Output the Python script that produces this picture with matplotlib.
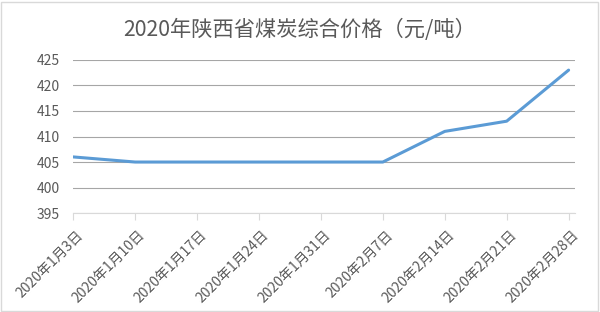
import matplotlib
matplotlib.use('Agg')
import matplotlib.pyplot as plt
from matplotlib.patches import Rectangle
from matplotlib.transforms import ScaledTranslation

plt.rcParams['font.family'] = ['Noto Sans CJK SC', 'DejaVu Sans']

# 日期和价格
dates = ['2020年1月3日', '2020年1月10日', '2020年1月17日', '2020年1月24日', '2020年1月31日',
         '2020年2月7日', '2020年2月14日', '2020年2月21日', '2020年2月28日']
prices = [406, 405, 405, 405, 405, 405, 411, 413, 423]
yticks = [395, 400, 405, 410, 415, 420, 425]

fig = plt.figure(figsize=(6, 3.12), dpi=100)
ax = fig.add_axes([0.122, 0.317, 0.836, 0.491])

x = list(range(len(dates)))
ax.plot(x, prices, color='#5b9bd5', linewidth=2.2, solid_capstyle='round', zorder=3)

ax.set_ylim(395, 425)
ax.set_yticks(yticks)
ax.set_xlim(0, len(dates) - 1 + 0.1)
ax.set_xticks(x)
ax.set_xticklabels(dates, rotation=45, ha='right', va='center', rotation_mode='anchor')

for s in ['left', 'right', 'top']:
    ax.spines[s].set_visible(False)
ax.spines['bottom'].set_color('#d9d9d9')
ax.grid(axis='y', color='#a6a6a6', linewidth=0.8)
ax.set_axisbelow(True)
ax.tick_params(axis='y', length=0, pad=9.5, labelsize=10, labelcolor='#595959')
ax.tick_params(axis='x', length=5, color='#d9d9d9', direction='out', labelsize=10,
               labelcolor='#595959', pad=0)

# 标签往右下挪一点 (tick_params 之后再设)
off = ScaledTranslation(8 / 100, -13 / 100, fig.dpi_scale_trans)
for lbl in ax.get_xticklabels():
    lbl.set_transform(lbl.get_transform() + off)

fig.text(0.5, 0.905, '2020年陕西省煤炭综合价格（元/吨）', ha='center', va='center',
         fontsize=15.3, color='#595959')

fig.patches.append(Rectangle((0.002, 0.003), 0.995, 0.992, transform=fig.transFigure,
                             fill=False, edgecolor='#d9d9d9', linewidth=1))

fig.savefig('out.png', dpi=100)
